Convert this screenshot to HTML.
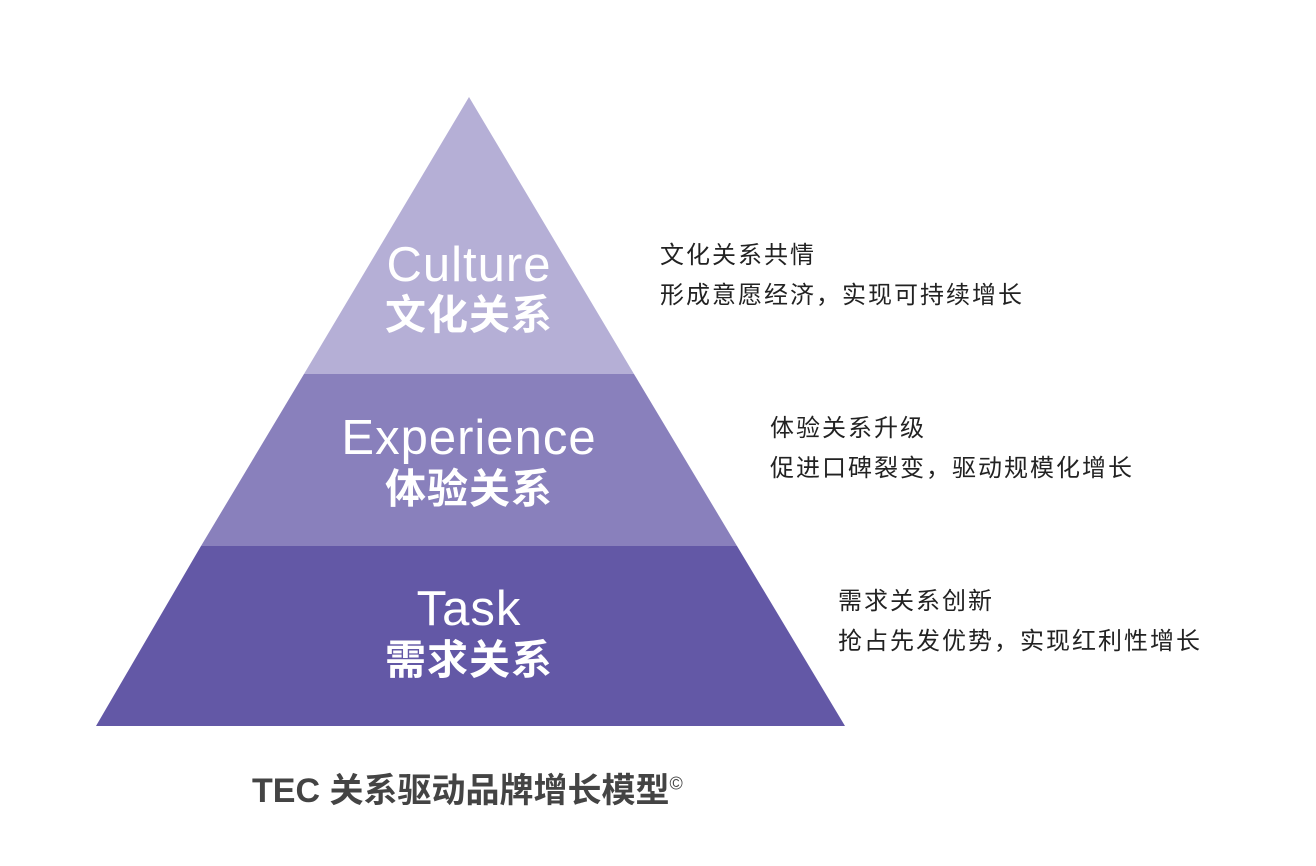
<!DOCTYPE html>
<html><head><meta charset="utf-8"><style>
body{margin:0;width:1316px;height:866px;background:#fff;overflow:hidden;position:relative;font-family:"Liberation Sans","Noto Sans CJK SC",sans-serif}
.t{position:absolute;color:#fff;text-align:center;width:500px;left:219px;line-height:1}
.en{font-size:49px;letter-spacing:1px}
.zh{font-size:41px;font-weight:bold;letter-spacing:1px}
.r{position:absolute;font-size:24px;letter-spacing:2px;color:#222;line-height:40px;white-space:nowrap}
</style></head><body>
<svg width="1316" height="866" style="position:absolute;left:0;top:0">
<polygon points="469,97 634,374 304,374" fill="#b5afd6"/>
<polygon points="304,374 634,374 737,546 201,546" fill="#8980bc"/>
<polygon points="201,546 737,546 845,726 96,726" fill="#6358a6"/>
</svg>
<div class="t en" style="top:241px">Culture</div>
<div class="t zh" style="top:295px">文化关系</div>
<div class="t en" style="top:414px">Experience</div>
<div class="t zh" style="top:469px">体验关系</div>
<div class="t en" style="top:585px">Task</div>
<div class="t zh" style="top:640px">需求关系</div>
<div class="r" style="left:660px;top:236px">文化关系共情<br>形成意愿经济，实现可持续增长</div>
<div class="r" style="left:770px;top:409px">体验关系升级<br>促进口碑裂变，驱动规模化增长</div>
<div class="r" style="left:838px;top:582px">需求关系创新<br>抢占先发优势，实现红利性增长</div>
<div style="position:absolute;left:252px;top:763px;font-size:34px;font-weight:bold;color:#444;white-space:nowrap">TEC 关系驱动品牌增长模型<sup style="font-size:18px;font-weight:normal">©</sup></div>
</body></html>
